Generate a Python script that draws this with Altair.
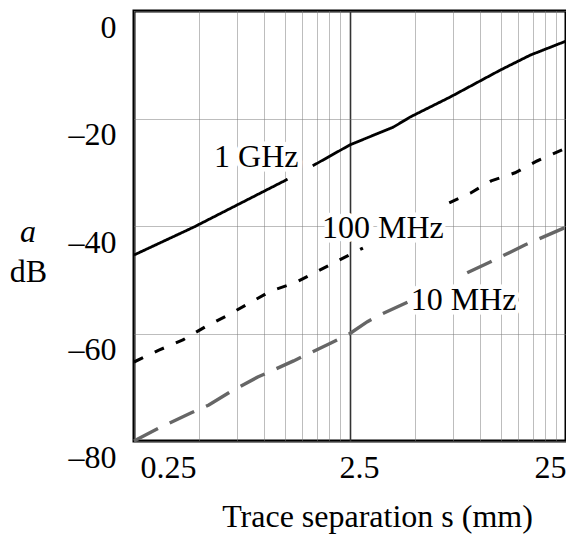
import altair as alt
import pandas as pd

# ---- data ----
series_names = ["1 GHz", "100 MHz", "10 MHz"]

ghz1_s = [0.25, 0.473, 1.285, 1.68, 2.5, 3.97, 4.76, 7.28, 12.4, 17.1, 25]
ghz1_db = [-45.4, -40.2, -31.3, -28.8, -24.9, -21.6, -19.7, -16.0, -11.0, -8.2, -5.6]
ghz1_seg = [0, 0, 0, 1, 1, 1, 1, 1, 1, 1, 1]

mhz100_s = [0.25, 0.326, 0.421, 0.532, 0.672, 0.859, 1.073, 1.385, 1.714, 2.19, 2.87,
            7.20, 9.01, 11.26, 14.52, 18.36, 25]
mhz100_db = [-65.3, -63.1, -61.2, -58.8, -56.7, -54.3, -52.1, -50.6, -48.7, -46.5, -44.1,
             -35.7, -33.9, -31.6, -30.1, -27.9, -25.5]
mhz100_seg = [0] * 11 + [1] * 6

mhz10_s = [0.25, 0.333, 0.458, 0.555, 0.694, 0.935, 1.37, 2.03, 2.5, 3.01, 3.46, 4.66,
           8.72, 11.14, 16.2, 25]
mhz10_db = [-80.0, -77.4, -74.8, -73.3, -70.9, -68.1, -65.1, -61.8, -60.0, -57.8, -56.5, -54.1,
            -48.7, -46.7, -43.5, -40.2]
mhz10_seg = [0] * 12 + [1] * 4

label_text = ["1 GHz", "100 MHz", "10 MHz"]
label_s = [0.92, 3.55, 8.39]
label_db = [-29.0, -42.2, -55.6]

x_grid = [0.25, 0.5, 0.75, 1.0, 1.25, 1.5, 1.75, 2.0, 2.25, 2.5,
          5, 7.5, 10, 12.5, 15, 17.5, 20, 22.5, 25]
x_tick_values = [0.25, 2.5, 25]
x_tick_labels = ["0.25", "2.5", "25"]
y_tick_values = [0, -20, -40, -60, -80]
y_tick_labels = ["0", "\u201320", "\u201340", "\u201360", "\u201380"]

# ---- tables ----
rows = []
for name, ss, dd, sg in [("1 GHz", ghz1_s, ghz1_db, ghz1_seg),
                         ("100 MHz", mhz100_s, mhz100_db, mhz100_seg),
                         ("10 MHz", mhz10_s, mhz10_db, mhz10_seg)]:
    for s, d, g in zip(ss, dd, sg):
        rows.append({"series": name, "s": s, "a": d, "seg": f"{name}-{g}"})
df = pd.DataFrame(rows)
labels_df = pd.DataFrame({"text": label_text, "s": label_s, "a": label_db})

x_label_expr = " : ".join(
    f"datum.value == {v} ? '{t}'" for v, t in zip(x_tick_values, x_tick_labels)) + " : ''"
y_label_expr = " : ".join(
    f"datum.value == {v} ? '{t}'" for v, t in zip(y_tick_values, y_tick_labels)) + " : ''"

FONT = "Liberation Serif"
FS = 32
GRID = "#7a7a7a"

x_scale = alt.Scale(type="log", domain=[0.25, 25], nice=False)
y_scale = alt.Scale(domain=[-80, 0], nice=False)

x_axis = alt.Axis(
    values=x_grid, labelExpr=x_label_expr, title="Trace separation s (mm)",
    ticks=False, domain=False, labelOverlap=False, labelFlush=True,
    labelOffset={"condition": [{"test": "datum.value == 2.5", "value": 9},
                               {"test": "datum.value == 25", "value": 0}], "value": 6},
    labelPadding=11, labelFont=FONT, labelFontSize=FS, labelColor="black",
    titleFont=FONT, titleFontSize=FS, titleFontWeight="normal", titleColor="black",
    titleX=243, titleY=85, titleBaseline="alphabetic", titleAlign="center",
    grid=True,
    gridColor={"condition": {"test": "datum.value == 2.5", "value": "#333333"}, "value": GRID},
    gridDash={"condition": {"test": "datum.value == 2.5", "value": [1, 0]}, "value": [1, 1]},
    gridWidth={"condition": {"test": "datum.value == 2.5", "value": 1.6}, "value": 1},
)
y_axis = alt.Axis(
    values=y_tick_values, labelExpr=y_label_expr, title="dB",
    ticks=False, domain=False, labelOverlap=False,
    labelPadding=18, labelOffset=16,
    labelFont=FONT, labelFontSize=FS, labelColor="black",
    titleFont=FONT, titleFontSize=FS, titleFontWeight="normal", titleColor="black",
    titleAngle=0, titleX=-106, titleY=270, titleAlign="center", titleBaseline="alphabetic",
    grid=True, gridColor=GRID, gridDash=[1, 1], gridWidth=1,
)

X = alt.X("s:Q", scale=x_scale, axis=x_axis)
Y = alt.Y("a:Q", scale=y_scale, axis=y_axis)

halo = alt.Chart(labels_df).mark_text(
    font=FONT, fontSize=FS, align="center", baseline="alphabetic",
    stroke="white", strokeWidth=9, fill="white", strokeJoin="round"
).encode(x=X, y=Y, text="text:N")

lines = alt.Chart(df).mark_line(strokeCap="butt").encode(
    x=X, y=Y,
    detail="seg:N",
    color=alt.Color("series:N", scale=alt.Scale(domain=series_names,
                                                range=["black", "black", "#666666"]), legend=None),
    strokeDash=alt.StrokeDash("series:N", scale=alt.Scale(domain=series_names,
                                                          range=[[1, 0], [10, 13], [27, 13]]), legend=None),
    strokeWidth=alt.StrokeWidth("series:N", scale=alt.Scale(domain=series_names,
                                                            range=[2.8, 3.4, 2.4]), legend=None),
    order="s:Q",
)

texts = alt.Chart(labels_df).mark_text(
    font=FONT, fontSize=FS, align="center", baseline="alphabetic", color="black"
).encode(x=X, y=Y, text="text:N")

a_label = alt.Chart(pd.DataFrame({"t": ["a"]})).mark_text(
    font=FONT, fontSize=FS, fontStyle="italic", align="center", baseline="alphabetic", color="black"
).encode(x=alt.value(-106), y=alt.value(231), text="t:N")

chart = alt.layer(halo, lines, texts, a_label).properties(
    width=432, height=430,
    autosize=alt.AutoSizeParams(type="none"),
    padding={"left": 134, "top": 11, "right": 0, "bottom": 98},
    background="white",
).configure(font=FONT).configure_view(stroke="black", strokeWidth=3)

chart.save("out.html", embed_options={"renderer": "svg", "actions": False})
